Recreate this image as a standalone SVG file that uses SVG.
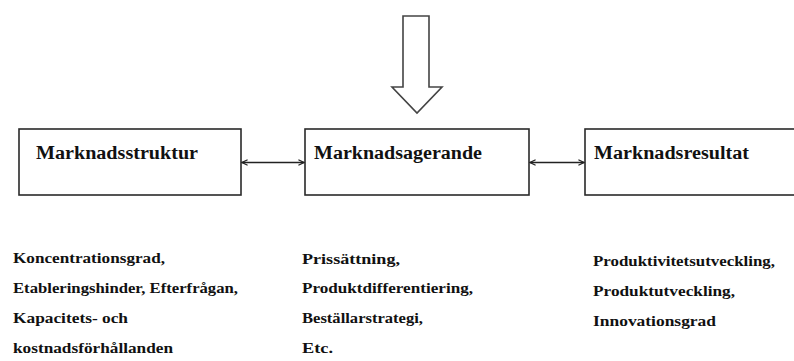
<svg xmlns="http://www.w3.org/2000/svg" width="794" height="361" viewBox="0 0 794 361">
<style>
.box{fill:#fff;stroke:#2a2a2a;stroke-width:1.6}
.title{font-family:"Liberation Serif",serif;font-weight:bold;font-size:18px;fill:#111}
.item{font-family:"Liberation Serif",serif;font-weight:bold;font-size:14px;fill:#111}
.conn{stroke:#222;stroke-width:1.4;fill:none}
</style>
<defs>
<marker id="open" viewBox="0 0 10 10" refX="9" refY="5" markerWidth="7" markerHeight="7" orient="auto-start-reverse" markerUnits="userSpaceOnUse">
<path d="M1,1 L9,5 L1,9" fill="none" stroke="#222" stroke-width="1.6"/>
</marker>
</defs>
<rect width="794" height="361" fill="#fff"/>
<g id="input-arrow">
<path d="M403,16 L429,16 L429,87 L442,87 L417,113 L392,87 L403,87 Z" fill="#fff" stroke="#444" stroke-width="1.6" stroke-linejoin="miter"/>
</g>
<g id="marknadsstruktur">
<rect class="box" x="19" y="129" width="222" height="66"/>
<text class="title" x="36" y="159" textLength="162" lengthAdjust="spacingAndGlyphs">Marknadsstruktur</text>
</g>
<g id="marknadsagerande">
<rect class="box" x="305" y="129" width="224" height="66"/>
<text class="title" x="314" y="159" textLength="168" lengthAdjust="spacingAndGlyphs">Marknadsagerande</text>
</g>
<g id="marknadsresultat">
<rect class="box" x="585" y="129" width="220" height="66"/>
<text class="title" x="594" y="159" textLength="155" lengthAdjust="spacingAndGlyphs">Marknadsresultat</text>
</g>
<g id="connectors">
<line class="conn" x1="242" y1="162.5" x2="304" y2="162.5" marker-start="url(#open)" marker-end="url(#open)"/>
<line class="conn" x1="530" y1="162.5" x2="584" y2="162.5" marker-start="url(#open)" marker-end="url(#open)"/>
</g>
<g id="struktur-items">
<text class="item" x="13" y="263" textLength="152" lengthAdjust="spacingAndGlyphs">Koncentrationsgrad,</text>
<text class="item" x="13" y="293" textLength="225" lengthAdjust="spacingAndGlyphs">Etableringshinder, Efterfrågan,</text>
<text class="item" x="13" y="323" textLength="115" lengthAdjust="spacingAndGlyphs">Kapacitets- och</text>
<text class="item" x="13" y="353" textLength="160" lengthAdjust="spacingAndGlyphs">kostnadsförhållanden</text>
</g>
<g id="agerande-items">
<text class="item" x="302" y="264" textLength="98" lengthAdjust="spacingAndGlyphs">Prissättning,</text>
<text class="item" x="302" y="293" textLength="171" lengthAdjust="spacingAndGlyphs">Produktdifferentiering,</text>
<text class="item" x="302" y="323" textLength="121" lengthAdjust="spacingAndGlyphs">Beställarstrategi,</text>
<text class="item" x="302" y="353" textLength="31" lengthAdjust="spacingAndGlyphs">Etc.</text>
</g>
<g id="resultat-items">
<text class="item" x="593" y="266" textLength="182" lengthAdjust="spacingAndGlyphs">Produktivitetsutveckling,</text>
<text class="item" x="593" y="296" textLength="142" lengthAdjust="spacingAndGlyphs">Produktutveckling,</text>
<text class="item" x="593" y="326" textLength="123" lengthAdjust="spacingAndGlyphs">Innovationsgrad</text>
</g>
</svg>
